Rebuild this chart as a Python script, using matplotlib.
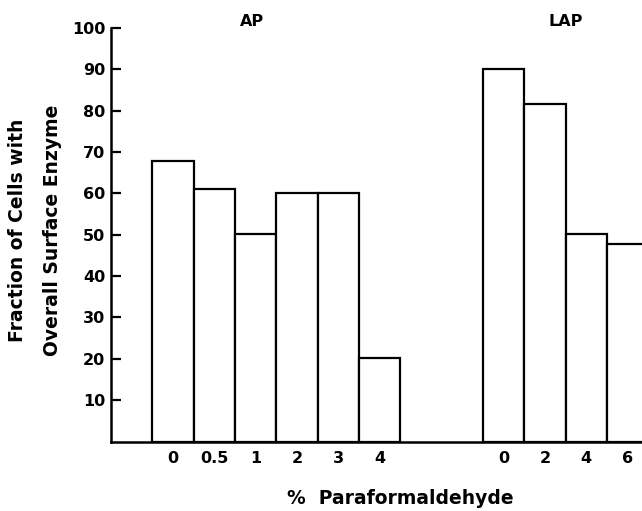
import matplotlib
matplotlib.use("Agg")
import matplotlib.pyplot as plt

# Data
ap_labels = ["0", "0.5", "1", "2", "3", "4"]
ap_values = [67.8, 61.0, 50.3, 60.0, 60.0, 20.3]
lap_labels = ["0", "2", "4", "6"]
lap_values = [90.1, 81.6, 50.3, 47.7]
y_ticks = [10, 20, 30, 40, 50, 60, 70, 80, 90, 100]

ap_pos = list(range(len(ap_values)))
lap_pos = [8 + i for i in range(len(lap_values))]

plt.rcParams['font.family'] = ['DejaVu Sans']
fig = plt.figure(figsize=(6.42, 5.11), dpi=100)
ax = fig.add_axes([111/642, (511-441.5)/511, (642-111)/642, 413.5/511])

ax.bar(ap_pos, ap_values, width=1.0, facecolor="white", edgecolor="black", linewidth=1.6)
ax.bar(lap_pos, lap_values, width=1.0, facecolor="white", edgecolor="black", linewidth=1.6)

ax.set_xlim(-1.5, 11.35)
ax.set_ylim(0, 100)
ax.spines['top'].set_visible(False)
ax.spines['right'].set_visible(False)
ax.spines['left'].set_linewidth(1.8)
ax.spines['bottom'].set_linewidth(1.8)

ax.set_yticks(y_ticks)
ax.set_yticklabels([str(v) for v in y_ticks])
ax.tick_params(axis='y', direction='in', length=7, width=1.6, pad=4, labelsize=11.5)
ax.set_xticks(ap_pos + lap_pos)
ax.set_xticklabels(ap_labels + lap_labels)
ax.tick_params(axis='x', length=0, pad=7, labelsize=11.5)
for lab in ax.get_xticklabels() + ax.get_yticklabels():
    lab.set_fontweight('bold')

ax.text(1.9, 101.5, "AP", ha="center", va="center", fontsize=11.5, fontweight="bold")
ax.text(9.5, 101.5, "LAP", ha="center", va="center", fontsize=11.5, fontweight="bold")

ax.set_xlabel("%  Paraformaldehyde", fontsize=13.5, fontweight="bold")
ax.xaxis.set_label_coords(0.544, -0.137)
ax.xaxis.label.set_va("center")

ax.set_ylabel("Fraction of Cells with\nOverall Surface Enzyme", fontsize=13.5,
              fontweight="bold", linespacing=2.1)
ax.yaxis.set_label_coords(-0.143, 0.51)
ax.yaxis.label.set_va("center")

fig.savefig("out.png", dpi=100)
